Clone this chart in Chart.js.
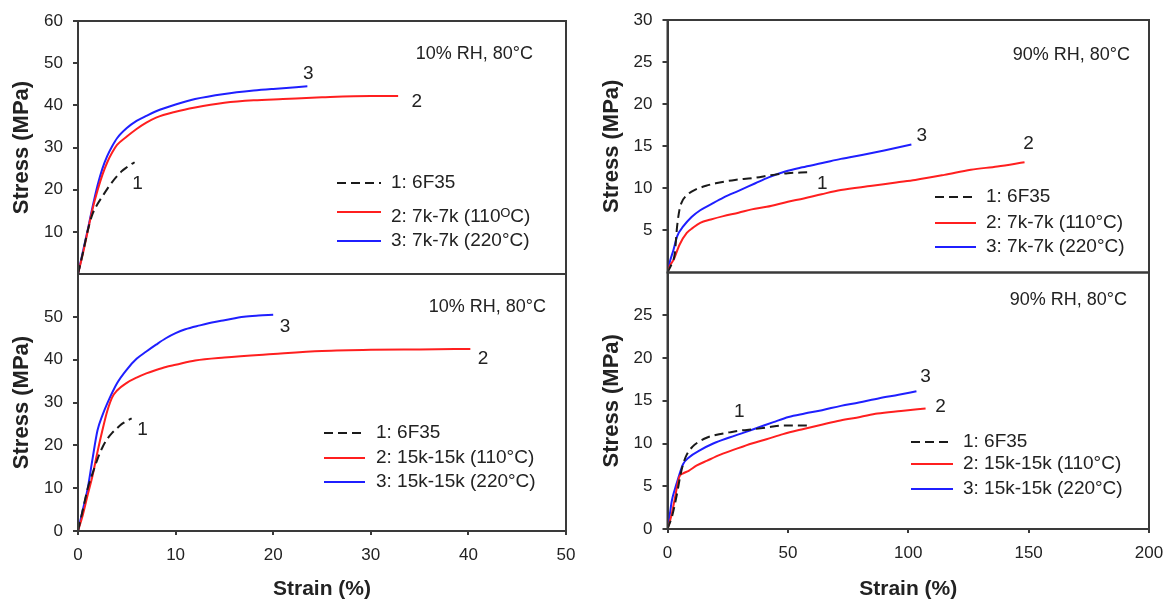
<!DOCTYPE html>
<html>
<head>
<meta charset="utf-8">
<script src="https://cdn.jsdelivr.net/npm/chart.js@4.4.1/dist/chart.umd.min.js"></script>
<style>
  html, body { margin: 0; padding: 0; background: #fff; }
  #wrap { position: relative; width: 1163px; height: 603px; overflow: hidden; }
  canvas { position: absolute; left: 0; top: 0; }
</style>
</head>
<body>
<div id="wrap">
  <canvas id="tl" width="1163" height="603"></canvas>
  <canvas id="bl" width="1163" height="603"></canvas>
  <canvas id="tr" width="1163" height="603"></canvas>
  <canvas id="br" width="1163" height="603"></canvas>
</div>
<script>
// [strain %, stress MPa] pairs
// top left: 10% RH, 80°C, 7k-7k
const tl6F35 = [[0,0],[0.5,5],[1,10.3],[1.5,14.3],[2,16.6],[2.5,18.4],[3,20.2],[3.5,21.8],[4,23.2],[4.5,24.4],[5,25.3],[5.5,26.1],[5.8,26.5]];
const tl110 = [[0,0],[0.5,4.8],[1,10.2],[1.5,15.5],[2,19.8],[2.5,23.5],[3,26.5],[3.5,28.8],[4,30.6],[5,32.6],[6,34.4],[7,35.9],[8,37.1],[10,38.5],[12,39.5],[15,40.6],[18,41.2],[21,41.5],[25,41.9],[30,42.2],[32.8,42.2]];
const tl220 = [[0,0],[0.5,5.3],[1,10.5],[1.5,16],[2,21],[2.5,25],[3,28],[3.5,30.3],[4,32.2],[5,34.6],[6,36.3],[7,37.5],[8,38.6],[10,40.2],[12,41.5],[15,42.7],[18,43.5],[20,43.9],[23.5,44.5]];
// bottom left: 10% RH, 80°C, 15k-15k
const bl6F35 = [[0,0],[0.5,5],[1,10],[1.5,13.5],[2,16.8],[2.5,19.5],[3,21.5],[3.5,22.9],[4,24],[4.5,25],[5,25.7],[5.5,26.3]];
const bl110 = [[0,0],[0.5,3.8],[1,8.5],[1.5,13],[2,18.5],[2.5,23.5],[3,28],[3.5,31.2],[4,32.8],[5,34.6],[6,35.8],[7,36.8],[8,37.6],[9,38.3],[10,38.8],[12,39.8],[15,40.5],[20,41.3],[25,42],[30,42.3],[35,42.4],[40.2,42.5]];
const bl220 = [[0,0],[0.5,5],[1,10],[1.5,17],[2,23.5],[2.5,27],[3,29.8],[4,34.5],[5,37.7],[6,40.2],[7,41.9],[8,43.5],[9,45],[10,46.2],[11,47.1],[12.5,48],[14,48.8],[15,49.2],[17,50],[18.5,50.3],[20,50.5]];
// top right: 90% RH, 80°C, 7k-7k
const tr6F35 = [[0,0],[2,1.2],[3,2.2],[4,5.5],[5,7.5],[6,8.4],[8,9.2],[10,9.6],[12,9.9],[16,10.3],[20,10.6],[28,11],[35,11.2],[44,11.6],[50,11.8],[58,11.9]];
const tr110 = [[0,0],[1,0.8],[2.5,1.5],[5,3.3],[8,4.7],[10.5,5.3],[13.6,5.9],[18,6.3],[23.2,6.7],[29.5,7.1],[35,7.5],[41.2,7.8],[50,8.4],[56.6,8.8],[64,9.3],[72,9.8],[85,10.3],[95,10.7],[102.9,11],[115,11.6],[126,12.2],[137,12.6],[148.3,13.1]];
const tr220 = [[0,0],[1,1.3],[2.5,2.7],[4,4.3],[6.6,5.5],[10,6.6],[13.6,7.4],[18,8.1],[23.2,8.9],[29.5,9.7],[36.5,10.6],[42,11.3],[48.9,12],[56,12.5],[64.3,13],[72,13.5],[81.3,14],[90,14.5],[101.3,15.2]];
// bottom right: 90% RH, 80°C, 15k-15k
const br6F35 = [[0,0],[1.8,1.4],[3,2.8],[4.2,4.5],[5.3,6.2],[6.5,7.6],[8,8.7],[10.3,9.6],[13,10.2],[16.5,10.7],[20,11],[25.7,11.3],[30,11.5],[36.5,11.7],[42,11.9],[47.2,12.1],[58,12.1]];
const br110 = [[0,0],[1,0.9],[1.8,1.8],[3,3.5],[4.9,6.1],[6.5,6.5],[8.8,6.8],[12,7.4],[16.5,8],[22,8.7],[28.8,9.4],[35,10],[41.1,10.5],[48,11.1],[56.5,11.7],[64,12.2],[71.8,12.7],[80,13.1],[87.2,13.5],[97,13.8],[107.2,14.1]];
const br220 = [[0,0],[1,1.8],[1.8,3.3],[3,4.6],[4.2,5.7],[6.5,7.6],[9,8.4],[13.4,9.2],[19,10],[25.7,10.7],[32,11.3],[38,11.9],[44,12.5],[50.3,13.1],[57,13.5],[64.2,13.9],[72,14.4],[79.5,14.8],[88,15.3],[96,15.7],[103.4,16.1]];

// where the curve numbers 1, 2, 3 sit, in data units
const tlMarks = [[6.1, 21.5], [34.7, 40.8], [23.6, 47.4]];
const blMarks = [[6.6, 23.7], [41.5, 40.2], [21.2, 47.7]];
const trMarks = [[64.3, 10.6], [150, 15.3], [105.6, 16.2]];
const brMarks = [[29.8, 13.7], [113.4, 14.3], [107.2, 17.85]];

const labels7k = ['1: 6F35', '2: 7k-7k (110\u1D3CC)', '3: 7k-7k (220°C)'];
const labels7kWet = ['1: 6F35', '2: 7k-7k (110°C)', '3: 7k-7k (220°C)'];
const labels15k = ['1: 6F35', '2: 15k-15k (110°C)', '3: 15k-15k (220°C)'];

const FONT = "'Liberation Sans', Arial, sans-serif";
const INK = '#222';
const AXIS = '#3a3a3a';
const BLACK = '#1a1a1a', RED = '#ff1f1f', BLUE = '#1f1fff';

Chart.defaults.font.family = FONT;
Chart.defaults.color = INK;
Chart.defaults.animation = false;

function toPoints(arr) {
  return arr.map(p => ({ x: p[0], y: p[1] }));
}

const panelDecor = {
  id: 'panelDecor',
  afterDatasetsDraw(chart, args, opts) {
    const { ctx, chartArea: a, scales: { x, y } } = chart;
    ctx.save();
    ctx.strokeStyle = AXIS;
    ctx.lineWidth = 2;
    ctx.strokeRect(a.left, a.top, a.right - a.left, a.bottom - a.top);

    ctx.fillStyle = INK;
    ctx.textBaseline = 'middle';
    ctx.font = '18px ' + FONT;
    ctx.textAlign = 'right';
    ctx.fillText(opts.note, opts.noteX, opts.noteY);

    ctx.font = '19px ' + FONT;
    ctx.textAlign = 'center';
    opts.marks.forEach((m, i) => {
      ctx.fillText(String(i + 1), x.getPixelForValue(m[0]), y.getPixelForValue(m[1]));
    });

    const lg = opts.legend;
    ctx.textAlign = 'left';
    chart.data.datasets.forEach((ds, i) => {
      const ly = lg.rows[i];
      ctx.strokeStyle = ds.borderColor;
      ctx.lineWidth = 2;
      ctx.setLineDash(ds.borderDash || []);
      ctx.beginPath();
      ctx.moveTo(lg.x, ly);
      ctx.lineTo(lg.x + lg.len, ly);
      ctx.stroke();
      ctx.setLineDash([]);
      ctx.fillText(ds.label, lg.x + lg.len + lg.gap, ly + (lg.dy ? lg.dy[i] : 0));
    });
    ctx.restore();
  }
};

function series(names, a, b, c) {
  const base = { borderWidth: 2, pointRadius: 0, cubicInterpolationMode: 'monotone', fill: false };
  return [
    Object.assign({ label: names[0], data: toPoints(a), borderColor: BLACK, borderDash: [9, 5] }, base),
    Object.assign({ label: names[1], data: toPoints(b), borderColor: RED }, base),
    Object.assign({ label: names[2], data: toPoints(c), borderColor: BLUE }, base)
  ];
}

function makePanel(id, p) {
  const xAxis = {
    type: 'linear', min: 0, max: p.xMax,
    display: p.showX,
    ticks: { stepSize: p.xStep, padding: 10, font: { size: 17 }, color: INK, maxRotation: 0 },
    grid: { drawOnChartArea: false, drawTicks: true, tickLength: 4, color: AXIS, lineWidth: 2 },
    border: { display: true, color: AXIS, width: 2 },
    title: { display: true, text: 'Strain (%)', color: INK,
             font: { size: 21, weight: 'bold', lineHeight: 1.2 }, padding: { top: 0, bottom: 1 } },
    afterFit(s) { s.height = p.xHeight; s.paddingLeft = 0; s.paddingRight = 0; }
  };
  const yAxis = {
    type: 'linear', min: 0, max: p.yMax,
    ticks: { stepSize: p.yStep, padding: 10, font: { size: 17 }, color: INK },
    grid: { drawOnChartArea: false, drawTicks: true, tickLength: 5, color: AXIS, lineWidth: 2 },
    border: { display: true, color: AXIS, width: 2 },
    title: { display: true, text: 'Stress (MPa)', color: INK,
             font: { size: 22, weight: 'bold', lineHeight: 1.2 }, padding: { top: 9, bottom: 0 } },
    afterBuildTicks(s) { s.ticks = s.ticks.filter(t => t.value !== p.yHide); },
    afterFit(s) { s.width = p.yWidth; s.paddingTop = 0; s.paddingBottom = 0; }
  };
  return new Chart(document.getElementById(id), {
    type: 'line',
    data: { datasets: p.datasets },
    options: {
      responsive: false,
      layout: { padding: p.pad },
      scales: { x: xAxis, y: yAxis },
      plugins: {
        legend: { display: false },
        tooltip: { enabled: false },
        panelDecor: { note: p.note, noteX: p.noteX, noteY: p.noteY, marks: p.marks, legend: p.legend }
      }
    },
    plugins: [panelDecor]
  });
}

makePanel('tl', {
  datasets: series(labels7k, tl6F35, tl110, tl220),
  xMax: 50, xStep: 10, yMax: 60, yStep: 10, yHide: 0, showX: false, xHeight: 0, yWidth: 78,
  pad: { left: 0, top: 21, right: 597, bottom: 329 },
  note: '10% RH, 80°C', noteX: 533, noteY: 54, marks: tlMarks,
  legend: { x: 337, len: 44, gap: 10, rows: [183, 212, 241], dy: [0, 5, 0] }
});
makePanel('bl', {
  datasets: series(labels15k, bl6F35, bl110, bl220),
  xMax: 50, xStep: 10, yMax: 60, yStep: 10, yHide: 60, showX: true, xHeight: 72, yWidth: 78,
  pad: { left: 0, top: 274, right: 597, bottom: 0 },
  note: '10% RH, 80°C', noteX: 546, noteY: 307, marks: blMarks,
  legend: { x: 324, len: 41, gap: 11, rows: [433, 458, 482] }
});
makePanel('tr', {
  datasets: series(labels7kWet, tr6F35, tr110, tr220),
  xMax: 200, xStep: 50, yMax: 30, yStep: 5, yHide: 0, showX: false, xHeight: 0, yWidth: 77.5,
  pad: { left: 590, top: 20, right: 14, bottom: 330.5 },
  note: '90% RH, 80°C', noteX: 1130, noteY: 55, marks: trMarks,
  legend: { x: 935, len: 41, gap: 10, rows: [197, 223, 247] }
});
makePanel('br', {
  datasets: series(labels15k, br6F35, br110, br220),
  xMax: 200, xStep: 50, yMax: 30, yStep: 5, yHide: 30, showX: true, xHeight: 74, yWidth: 77.5,
  pad: { left: 590, top: 272.5, right: 14, bottom: 0 },
  note: '90% RH, 80°C', noteX: 1127, noteY: 300, marks: brMarks,
  legend: { x: 911, len: 42, gap: 10, rows: [442, 464, 489] }
});
</script>
</body>
</html>
